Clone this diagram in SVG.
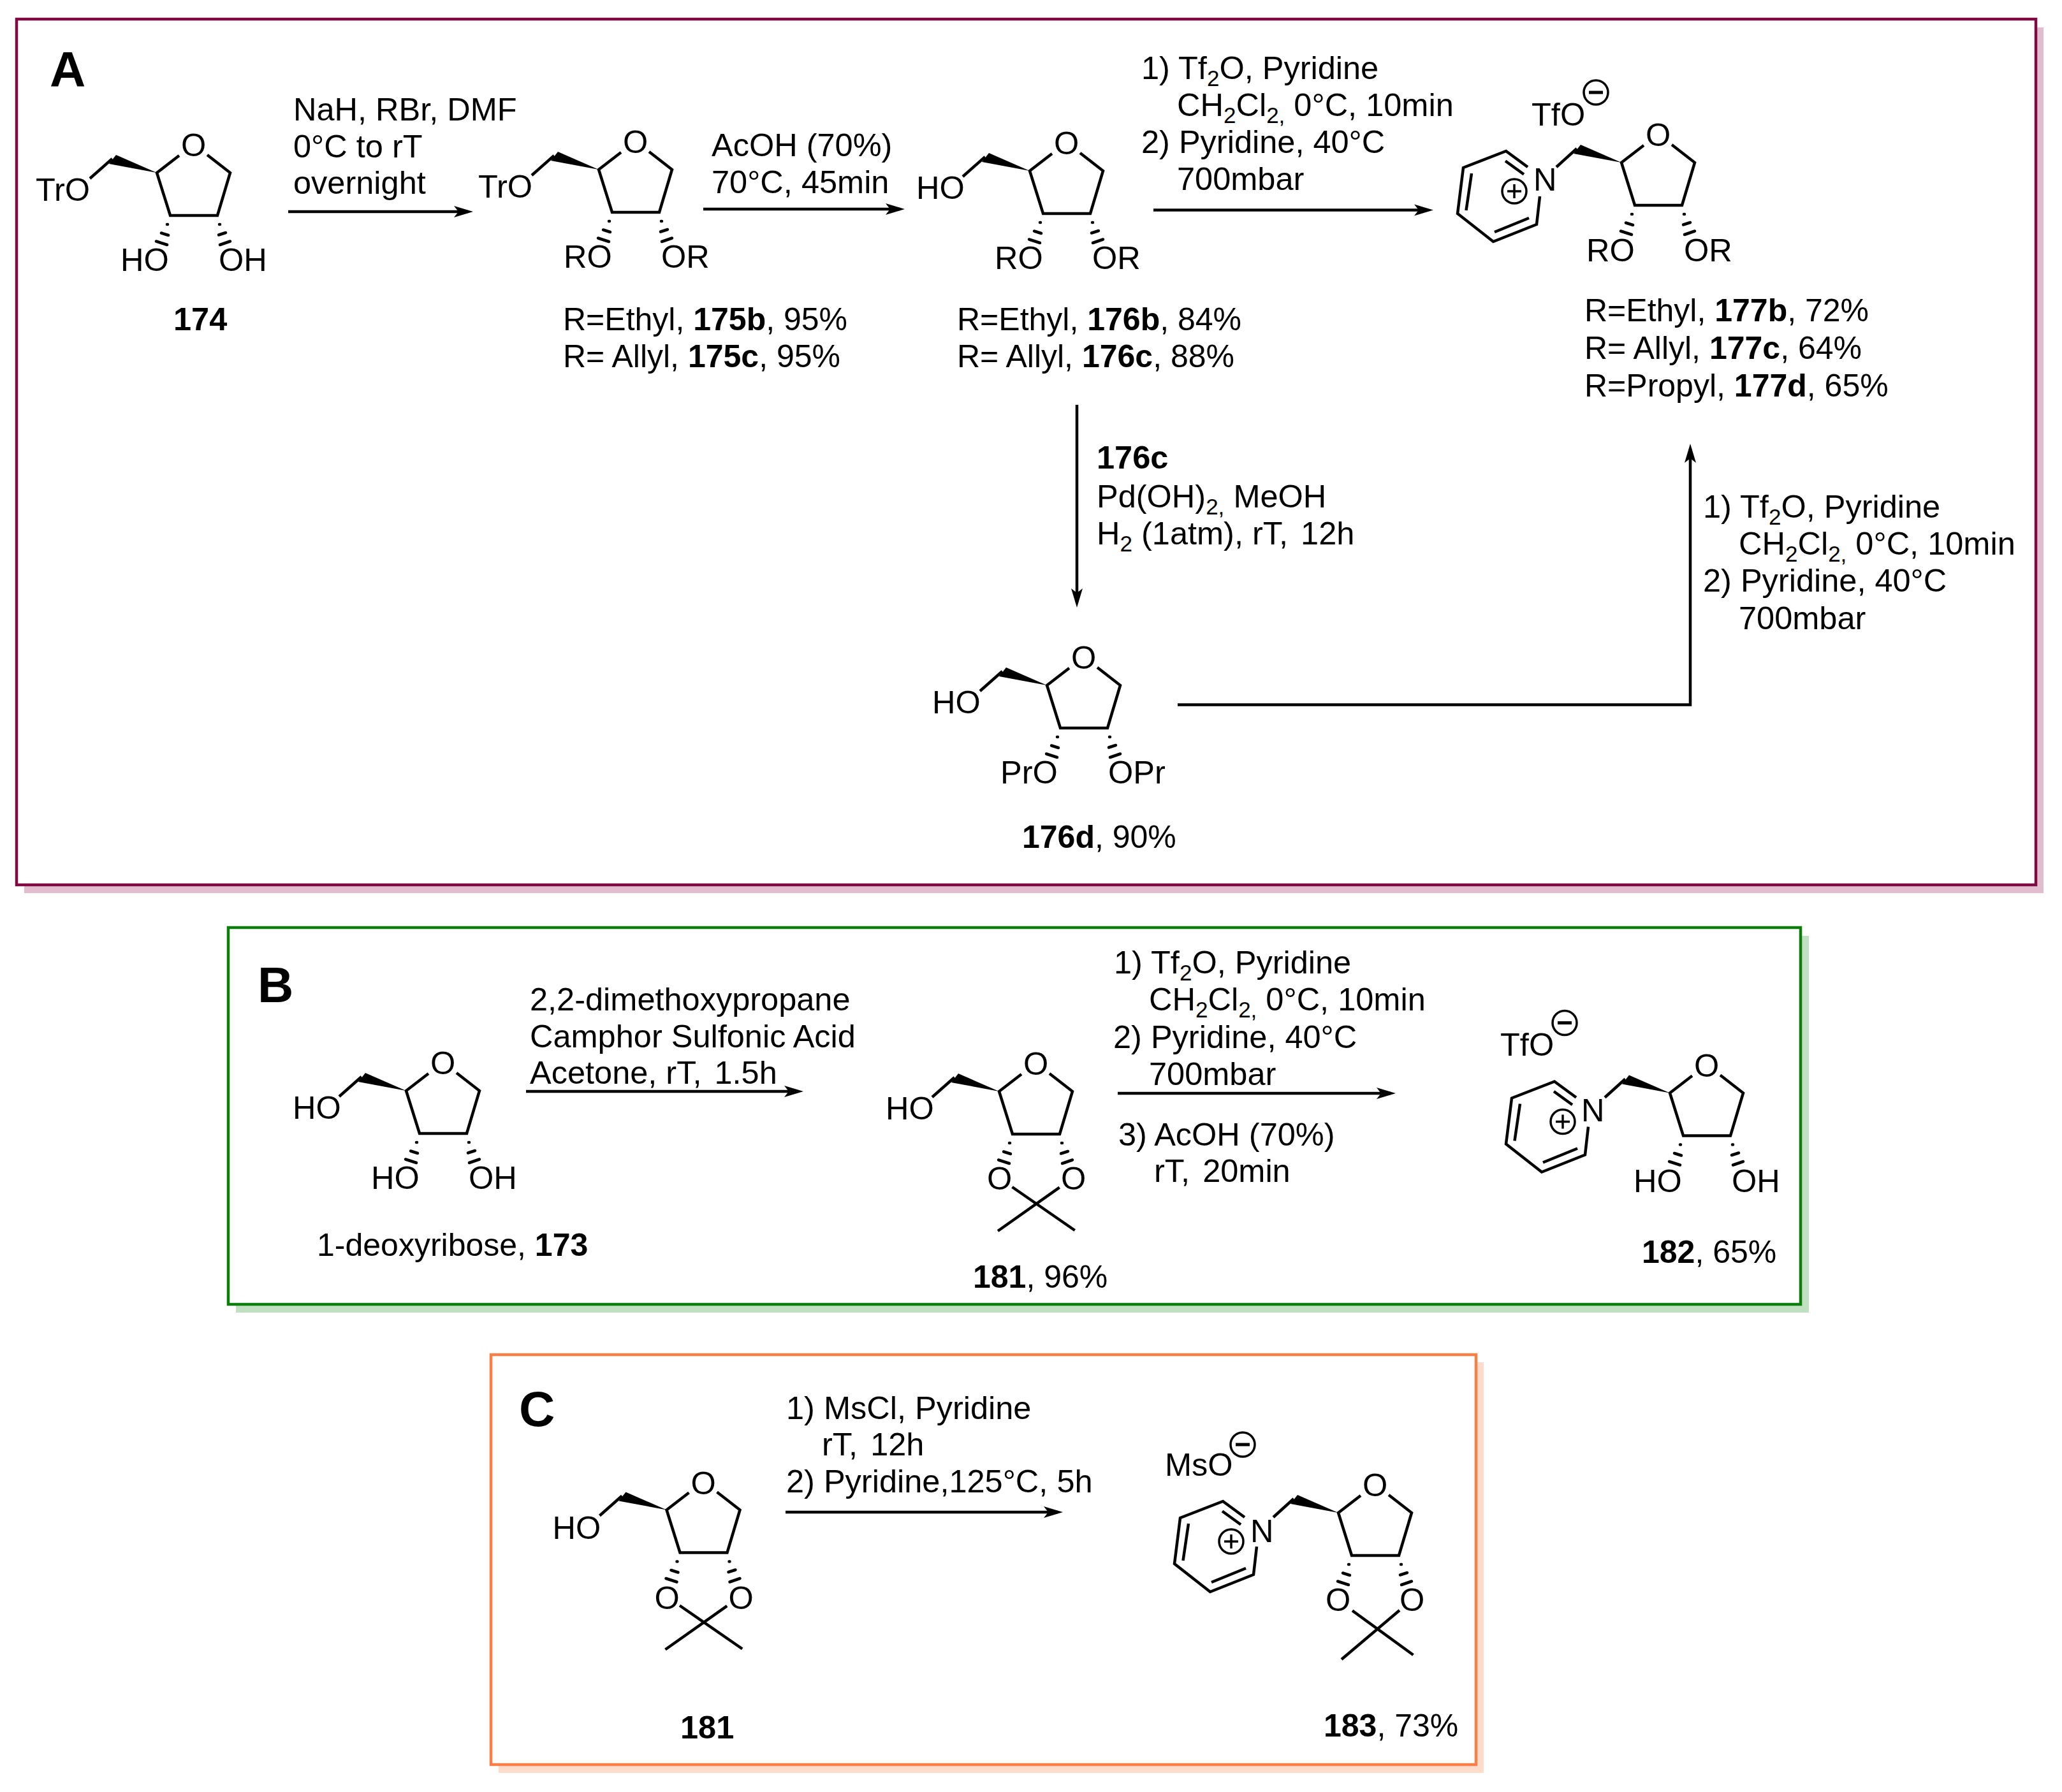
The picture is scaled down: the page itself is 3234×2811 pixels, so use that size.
<svg xmlns="http://www.w3.org/2000/svg" width="3234" height="2811" viewBox="0 0 3234 2811">
<style>
text{font-family:"Liberation Sans",Arial,sans-serif;font-size:50.5px;fill:#000}
.l{font-size:50px}
.b{font-weight:bold}
.big{font-weight:bold;font-size:78px}
.s{font-size:35px}
.bond{fill:none;stroke:#000;stroke-width:4.5;stroke-linejoin:miter;stroke-linecap:butt}
.hash{fill:none;stroke:#000;stroke-width:4.5;stroke-linecap:round}
.chg{fill:none;stroke:#000;stroke-width:3.5}
.minus{fill:none;stroke:#000;stroke-width:5}
.conn{fill:none;stroke:#000;stroke-width:4.5}
</style>
<defs>
<marker id="ah" markerUnits="userSpaceOnUse" markerWidth="34" markerHeight="22" viewBox="0 -11 34 22" refX="22" refY="0" orient="auto"><path d="M30,0 L0,-9 L7,0 L0,9Z" fill="#000"/></marker>
<g id="fur">
<path class="bond" d="M35,-27 L0,0 L21,67 L95,67 L115,0 L79,-28"/>
<path d="M0,0 L-64,-28 L-75,-14Z" fill="#000"/>
</g>
<path id="stub" class="bond" d="M-70,-22 L-105,9"/>
<g id="hl"><path class="hash" d="M16,81 L17,81 M7,94.5 L18,98 M-1,107.5 L16,113"/></g>
<g id="hr"><path class="hash" d="M98,81 L99,81 M97,97.5 L108,94 M99,113 L115,107.5"/></g>
<g id="acet"><path class="bond" d="M20.5,150 L118.7,218 M94.7,150.7 L-2,219"/></g>
<g id="acet2"><path class="bond" d="M22,153.5 L117.5,223 M96,153 L5,230"/></g>
<g id="pyr">
<path class="bond" d="M-147,7 L-181,-18 L-248,8 L-257,80 L-201,124 L-133,97 L-128,53 M-182,-2.5 L-153,18.5 M-235,17 L-243.5,75 M-199,109 L-145,87"/>
<path class="bond" d="M-102,7 L-70,-22"/>
<circle class="chg" cx="-168" cy="45" r="19"/>
<path class="chg" d="M-179,45 H-157 M-168,34 V56"/>
</g>
<g id="minus"><circle class="chg" r="19"/><path class="minus" d="M-11,0 H11"/></g>
</defs>

<g id="frame-a"><rect x="38" y="43" width="3167" height="1358" fill="#e2bccf"/><rect x="26" y="30" width="3167" height="1358" fill="#fff" stroke="#7f0a42" stroke-width="4.5"/><text class="big" x="78" y="136">A</text></g>
<g id="frame-b"><rect x="370" y="1468" width="2467" height="591" fill="#c1dfc1"/><rect x="358" y="1455" width="2466" height="591" fill="#fff" stroke="#0b7d0b" stroke-width="4.5"/><text class="big" x="404" y="1572">B</text></g>
<g id="frame-c"><rect x="782" y="2137" width="1545" height="644" fill="#fddccb"/><rect x="770" y="2125" width="1545" height="643" fill="#fff" stroke="#fb7f45" stroke-width="4.5"/><text class="big" x="814" y="2237">C</text></g>

<g id="connectors">
<path class="conn" marker-end="url(#ah)" d="M452,332 H734"/>
<path class="conn" marker-end="url(#ah)" d="M1103,328 H1411"/>
<path class="conn" marker-end="url(#ah)" d="M1809,329.5 H2240"/>
<path class="conn" marker-end="url(#ah)" d="M1689,635 V945"/>
<path class="conn" marker-end="url(#ah)" d="M1847,1105.5 H2651 V704"/>
<path class="conn" marker-end="url(#ah)" d="M825,1712 H1252"/>
<path class="conn" marker-end="url(#ah)" d="M1753,1715 H2181"/>
<path class="conn" marker-end="url(#ah)" d="M1232,2372 H1659"/>
</g>

<g id="n174" transform="translate(246,271)"><use href="#fur"/><use href="#stub"/><use href="#hl"/><use href="#hr"/>
<text x="38" y="-26">O</text><text x="-190" y="44">TrO</text><text x="-57" y="154">HO</text><text x="97" y="154">OH</text><text class="b" x="26" y="247">174</text></g>

<g id="reagents-1"><text x="460" y="189">NaH, RBr, DMF</text><text x="460" y="247">0°C to rT</text><text x="460" y="304">overnight</text></g>

<g id="n175" transform="translate(939,266)"><use href="#fur"/><use href="#stub"/><use href="#hl"/><use href="#hr"/>
<text x="38" y="-26">O</text><text x="-189" y="44">TrO</text><text x="-55" y="154">RO</text><text x="98" y="154">OR</text></g>
<g id="label-175"><text class="l" x="883" y="518">R=Ethyl, <tspan class="b">175b</tspan>, 95%</text><text class="l" x="883" y="576">R= Allyl, <tspan class="b">175c</tspan>, 95%</text></g>

<g id="reagents-2"><text x="1116" y="245">AcOH (70%)</text><text x="1116" y="303">70°C, 45min</text></g>

<g id="n176" transform="translate(1615,268)"><use href="#fur"/><use href="#stub"/><use href="#hl"/><use href="#hr"/>
<text x="38" y="-26">O</text><text x="-178" y="44">HO</text><text x="-55" y="154">RO</text><text x="98" y="154">OR</text></g>
<g id="label-176"><text class="l" x="1501" y="518">R=Ethyl, <tspan class="b">176b</tspan>, 84%</text><text class="l" x="1501" y="576">R= Allyl, <tspan class="b">176c</tspan>, 88%</text></g>

<g id="reagents-3"><text x="1790" y="124">1) Tf<tspan class="s" dy="11">2</tspan><tspan dy="-11">O, Pyridine</tspan></text><text x="1846" y="182">CH<tspan class="s" dy="11">2</tspan><tspan dy="-11">Cl</tspan><tspan class="s" dy="11">2,</tspan><tspan dy="-11"> 0°C, 10min</tspan></text><text x="1790" y="240">2) Pyridine, 40°C</text><text x="1846" y="298">700mbar</text></g>

<g id="n177" transform="translate(2543,255)"><use href="#fur"/><use href="#pyr"/><use href="#hl"/><use href="#hr"/>
<text x="38" y="-26">O</text><text x="-138" y="44">N</text><text x="-141" y="-58">TfO</text><use href="#minus" x="-40" y="-110"/><text x="-55" y="155">RO</text><text x="98" y="155">OR</text></g>
<g id="label-177"><text class="l" x="2485" y="504">R=Ethyl, <tspan class="b">177b</tspan>, 72%</text><text class="l" x="2485" y="563">R= Allyl, <tspan class="b">177c</tspan>, 64%</text><text class="l" x="2485" y="622">R=Propyl, <tspan class="b">177d</tspan>, 65%</text></g>

<g id="reagents-4"><text class="b" x="1720" y="735">176c</text><text x="1720" y="796">Pd(OH)<tspan class="s" dy="11">2,</tspan><tspan dy="-11"> MeOH</tspan></text><text x="1720" y="854">H<tspan class="s" dy="11">2</tspan><tspan dy="-11"> (1atm), rT, </tspan><tspan dx="6">12h</tspan></text></g>

<g id="n176d" transform="translate(1642,1075)"><use href="#fur"/><use href="#stub"/><use href="#hl"/><use href="#hr"/>
<text x="38" y="-26">O</text><text x="-180" y="44">HO</text><text x="-73" y="154">PrO</text><text x="96" y="154">OPr</text></g>
<text id="label-176d" class="l" x="1603" y="1330"><tspan class="b">176d</tspan>, 90%</text>

<g id="reagents-5"><text x="2671" y="812">1) Tf<tspan class="s" dy="11">2</tspan><tspan dy="-11">O, Pyridine</tspan></text><text x="2727" y="870">CH<tspan class="s" dy="11">2</tspan><tspan dy="-11">Cl</tspan><tspan class="s" dy="11">2,</tspan><tspan dy="-11"> 0°C, 10min</tspan></text><text x="2671" y="928">2) Pyridine, 40°C</text><text x="2727" y="987">700mbar</text></g>

<g id="n173" transform="translate(637,1711)"><use href="#fur"/><use href="#stub"/><use href="#hl"/><use href="#hr"/>
<text x="38" y="-26">O</text><text x="-178" y="44">HO</text><text x="-55" y="154">HO</text><text x="98" y="154">OH</text></g>
<text id="label-173" class="l" x="497" y="1970">1-deoxyribose, <tspan class="b">173</tspan></text>

<g id="reagents-6"><text x="831" y="1585">2,2-dimethoxypropane</text><text x="831" y="1642.5">Camphor Sulfonic Acid</text><text x="831" y="1700">Acetone, rT, <tspan dx="6">1.5h</tspan></text></g>

<g id="n181" transform="translate(1567,1712)"><use href="#fur"/><use href="#stub"/><use href="#hl"/><use href="#hr"/><use href="#acet"/>
<text x="38" y="-26">O</text><text x="-178" y="44">HO</text><text x="-19" y="154">O</text><text x="97" y="154">O</text></g>
<text id="label-181" class="l" x="1526" y="2020"><tspan class="b">181</tspan>, 96%</text>

<g id="reagents-7"><text x="1747" y="1527">1) Tf<tspan class="s" dy="11">2</tspan><tspan dy="-11">O, Pyridine</tspan></text><text x="1802" y="1585">CH<tspan class="s" dy="11">2</tspan><tspan dy="-11">Cl</tspan><tspan class="s" dy="11">2,</tspan><tspan dy="-11"> 0°C, 10min</tspan></text><text x="1746" y="1644">2) Pyridine, 40°C</text><text x="1802" y="1702">700mbar</text><text x="1754" y="1797">3) AcOH (70%)</text><text x="1810" y="1854">rT, <tspan dx="6">20min</tspan></text></g>

<g id="n182" transform="translate(2619,1714.5)"><use href="#fur"/><use href="#pyr"/><use href="#hl"/><use href="#hr"/>
<text x="38" y="-26">O</text><text x="-139" y="44.5">N</text><text x="-266" y="-59">TfO</text><use href="#minus" x="-165" y="-110"/><text x="-57" y="155">HO</text><text x="97" y="155">OH</text></g>
<text id="label-182" class="l" x="2575" y="1981"><tspan class="b">182</tspan>, 65%</text>

<g id="n181c" transform="translate(1045.5,2368.5)"><use href="#fur"/><use href="#stub"/><use href="#hl"/><use href="#hr"/><use href="#acet"/>
<text x="38" y="-25">O</text><text x="-179" y="45">HO</text><text x="-19" y="155">O</text><text x="97" y="155">O</text></g>
<text id="label-181c" class="b" x="1067" y="2727">181</text>

<g id="reagents-8"><text x="1233" y="2226">1) MsCl, Pyridine</text><text x="1289" y="2283">rT, <tspan dx="6">12h</tspan></text><text x="1233" y="2341">2) Pyridine,125°C, 5h</text></g>

<g id="n183" transform="translate(2099,2373)"><use href="#fur"/><use href="#pyr"/><use href="#hl"/><use href="#hr"/><use href="#acet2"/>
<text x="38" y="-26">O</text><text x="-138" y="46">N</text><text x="-272" y="-58">MsO</text><use href="#minus" x="-150" y="-107"/><text x="-20" y="154">O</text><text x="96" y="154">O</text></g>
<text id="label-183" class="l" x="2076" y="2724"><tspan class="b">183</tspan>, 73%</text>
</svg>
